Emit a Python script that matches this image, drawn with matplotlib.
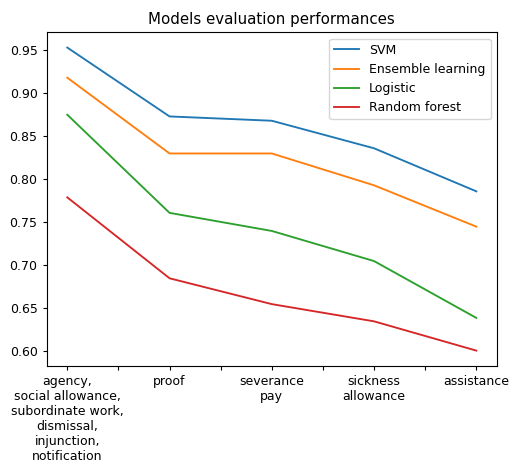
import numpy as np
import matplotlib
matplotlib.use("Agg")
import matplotlib.pyplot as plt

categories = ["agency,\nsocial allowance,\nsubordinate work,\ndismissal,\ninjunction,\nnotification",
              "proof", "severance\npay", "sickness\nallowance", "assistance"]
svm = [0.953, 0.873, 0.868, 0.836, 0.786]
ensemble = [0.918, 0.830, 0.830, 0.793, 0.745]
logistic = [0.875, 0.761, 0.740, 0.705, 0.639]
random_forest = [0.779, 0.685, 0.655, 0.635, 0.601]

x = np.arange(len(categories))

plt.rcParams['font.size'] = 9
plt.rcParams['lines.linewidth'] = 1.35
plt.rcParams['xtick.major.size'] = 3.2
plt.rcParams['ytick.major.size'] = 3.2

fig = plt.figure(figsize=(5.09, 4.63), dpi=100)
ax = fig.add_axes([0.092, 0.210, 0.884, 0.720])
ax.plot(x, svm, label="SVM")
ax.plot(x, ensemble, label="Ensemble learning")
ax.plot(x, logistic, label="Logistic")
ax.plot(x, random_forest, label="Random forest")

# ticks every half step, labels only on the categories
ticks = np.arange(0, len(categories) - 0.5, 0.5)
labels = []
for t in ticks:
    labels.append(categories[int(t)] if t == int(t) else "")
ax.set_xticks(ticks)
ax.set_xticklabels(labels)

ax.set_title("Models evaluation performances", fontsize=10.8)
ax.legend(loc="upper right")
fig.savefig("out.png", dpi=100)
